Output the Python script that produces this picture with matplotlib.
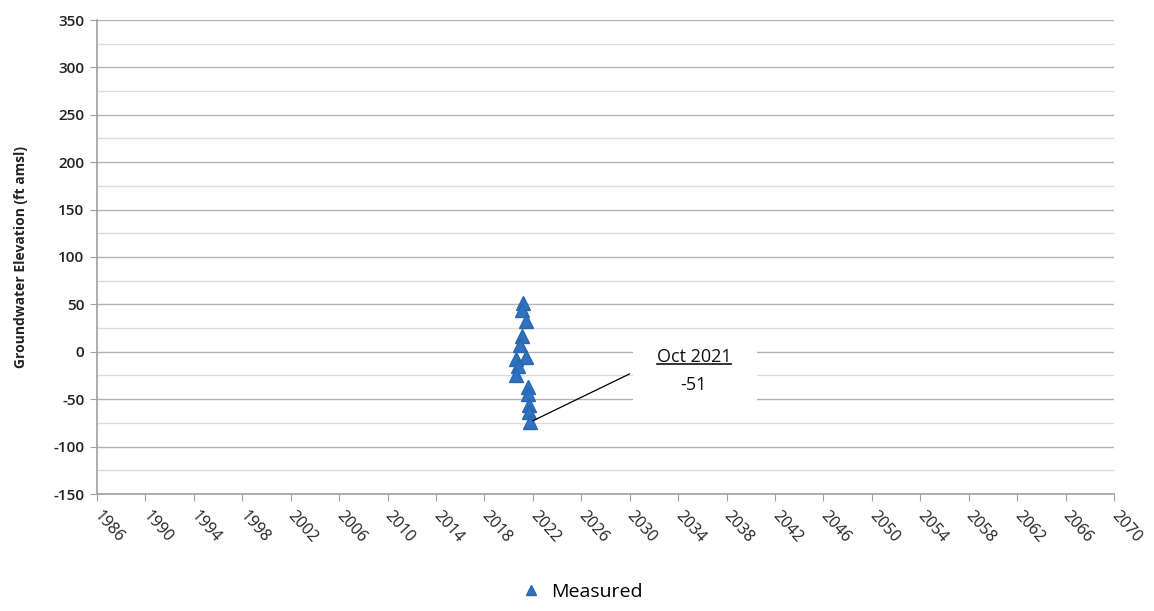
import matplotlib
matplotlib.use("Agg")
import matplotlib.pyplot as plt
from matplotlib.lines import Line2D
import numpy as np

# Data (decimal year, groundwater elevation ft amsl)
years = [2021.2, 2021.1, 2021.4, 2021.1, 2020.9, 2021.4, 2020.6, 2020.8, 2020.6,
         2021.6, 2021.6, 2021.7, 2021.7, 2021.8]
elev = [52, 44, 33, 17, 7, -5, -8, -15, -24, -37, -45, -56, -64, -74]

x_ticks = list(range(1986, 2071, 4))
y_ticks = list(range(-150, 351, 50))
series_label = "Measured"
ann_title = "Oct 2021"
ann_value = "-51"

plt.rcParams['font.family'] = ['Open Sans', 'DejaVu Sans']
plt.rcParams['axes.unicode_minus'] = False
fig = plt.figure(figsize=(11.54, 6.11), dpi=100)
ax = fig.add_axes([97/1154, 1-494/611, (1114-97)/1154, (494-20)/611])

ax.set_xlim(1986, 2070)
ax.set_ylim(-150, 350)
ax.set_yticks(y_ticks)
ax.set_yticks(np.arange(-125, 350, 50), minor=True)
ax.set_xticks(x_ticks)
ax.set_xticklabels([str(t) for t in x_ticks], rotation=-48, ha='left', va='center',
                   rotation_mode='anchor', fontsize=11.5, color='#222222')
ax.tick_params(axis='x', which='major', length=5, color='#a0a0a0', pad=9)
ax.tick_params(axis='y', which='major', length=5, color='#a0a0a0', labelsize=11,
               labelcolor='#222222', pad=4)
for lab in ax.get_yticklabels():
    lab.set_fontweight('semibold')
ax.tick_params(axis='y', which='minor', length=0)
ax.grid(True, which='major', axis='y', color='#b4b4b4', linewidth=1.0)
ax.grid(True, which='minor', axis='y', color='#dcdcdc', linewidth=1.0)
ax.set_axisbelow(True)
for s in ['top', 'right']:
    ax.spines[s].set_visible(False)
for s in ['left', 'bottom']:
    ax.spines[s].set_color('#a0a0a0')
    ax.spines[s].set_linewidth(1.2)

ax.set_ylabel("Groundwater Elevation (ft amsl)", fontsize=10, fontweight='bold',
              color='#222222')
ax.yaxis.set_label_coords(-0.068, 0.5)

ax.plot(years, elev, linestyle='none', marker='^', markersize=10.5,
        color='#2f72c0', markeredgecolor='#2a66b0', label=series_label, zorder=3)

# Leader line and annotation
ax.annotate("", xy=(years[-1], elev[-1]), xytext=(2030.2, -22),
            arrowprops=dict(arrowstyle='-', color='black', lw=0.9), zorder=4)
ax.add_patch(plt.Rectangle((2030.3, -52), 10.2, 62, facecolor='white',
                           edgecolor='none', zorder=2))
t1 = ax.text(2035.3, -5.5, ann_title, ha='center', va='center', fontsize=13,
             color='#111111', zorder=5)
ax.text(2035.3, -35, ann_value, ha='center', va='center', fontsize=13,
        color='#111111', zorder=5)

fig.canvas.draw()
bb = t1.get_window_extent().transformed(fig.transFigure.inverted())
fig.add_artist(Line2D([bb.x0, bb.x1], [bb.y0 + 0.004, bb.y0 + 0.004],
                      color='#111111', lw=1.2, transform=fig.transFigure))

fig.legend(loc='lower center', bbox_to_anchor=(0.5, -0.012), frameon=False,
           fontsize=14, handletextpad=0.05, markerscale=0.75)

fig.savefig("out.png", dpi=100)
